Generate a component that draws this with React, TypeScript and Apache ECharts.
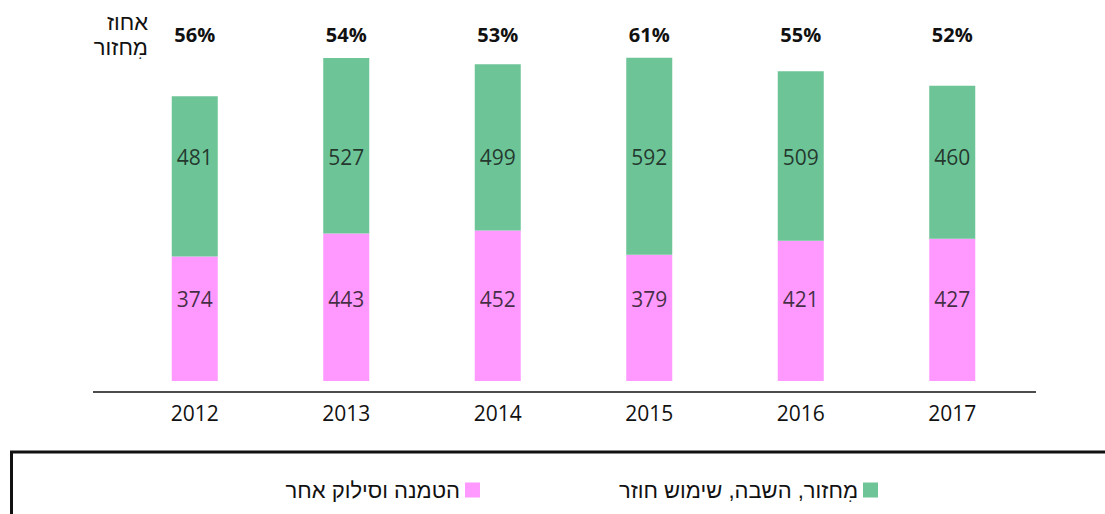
import React, { useEffect, useRef } from "react";
import * as echarts from "echarts";

const years = ["2012", "2013", "2014", "2015", "2016", "2017"];
const landfill = [374, 443, 452, 379, 421, 427];
const recycled = [481, 527, 499, 592, 509, 460];
const recyclePct = ["56%", "54%", "53%", "61%", "55%", "52%"];
const landfillName = "הטמנה וסילוק אחר";
const recycledName = "מִחזור, השבה, שימוש חוזר";
const cornerLabel = ["אחוז", "מִחזור"];

// value levels on the y axis where the segment numbers are written
const PINK_LABEL_LEVEL = 246;
const GREEN_LABEL_LEVEL = 672;

const FONT = "'Open Sans', 'DejaVu Sans', sans-serif";
const HEB = "'Liberation Sans Narrow', 'Liberation Sans', 'DejaVu Sans', sans-serif";

export default function App() {
  const ref = useRef<HTMLDivElement>(null);
  useEffect(() => {
    if (!ref.current) return;
    const chart = echarts.init(ref.current, null, { renderer: "svg" });
    const labelSeries = (level: number, values: number[]) => ({
      type: "scatter",
      silent: true,
      symbolSize: 0,
      z: 5,
      data: years.map((_, i) => [i, level, values[i]]),
      label: {
        show: true,
        position: "inside",
        fontSize: 21,
        color: "#111",
        fontFamily: FONT,
        formatter: (p: any) => String(p.value[2]),
      },
    });
    chart.setOption({
      animation: false,
      backgroundColor: "#ffffff",
      grid: { left: 119, right: 77, top: 48, bottom: 133, containLabel: false },
      legend: [
        {
          data: [recycledName],
          right: 227,
          top: 479,
          align: "right",
          icon: "rect",
          itemWidth: 15,
          itemHeight: 15,
          padding: 0,
          itemGap: 6,
          textStyle: { fontSize: 22, color: "#111", fontFamily: HEB },
        },
        {
          data: [landfillName],
          right: 625,
          top: 479,
          align: "right",
          icon: "rect",
          itemWidth: 15,
          itemHeight: 15,
          padding: 0,
          textStyle: { fontSize: 22, color: "#111", fontFamily: HEB },
        },
      ],
      xAxis: [
        {
          type: "category",
          data: years,
          offset: 11,
          axisLine: { show: false },
          axisTick: { show: false },
          axisLabel: { fontSize: 21, color: "#111", margin: 10, fontFamily: FONT },
        },
        {
          type: "category",
          data: recyclePct,
          position: "top",
          axisLine: { show: false },
          axisTick: { show: false },
          axisLabel: { fontSize: 20, color: "#111", fontWeight: "bold", margin: 4, fontFamily: FONT },
        },
      ],
      yAxis: {
        type: "value",
        min: 0,
        max: 1000,
        show: false,
        splitLine: { show: false },
      },
      series: [
        {
          name: landfillName,
          type: "bar",
          stack: "total",
          data: landfill,
          barWidth: 46,
          itemStyle: { color: "#FF99FF" },
        },
        {
          name: recycledName,
          type: "bar",
          stack: "total",
          data: recycled,
          barWidth: 46,
          itemStyle: { color: "#6CC497" },
        },
        labelSeries(PINK_LABEL_LEVEL, landfill),
        labelSeries(GREEN_LABEL_LEVEL, recycled),
      ],
      graphic: [
        {
          type: "line",
          shape: { x1: 93, y1: 392, x2: 1036, y2: 392 },
          style: { stroke: "#111", lineWidth: 1.3 },
        },
        {
          type: "rect",
          shape: { x: 11.5, y: 452, width: 1200, height: 100 },
          style: { fill: "none", stroke: "#111", lineWidth: 3 },
        },
        {
          type: "text",
          x: 148,
          y: 22,
          style: { text: cornerLabel[0], fontSize: 22, fill: "#111", align: "right", verticalAlign: "middle", fontFamily: HEB },
        },
        {
          type: "text",
          x: 148,
          y: 47,
          style: { text: cornerLabel[1], fontSize: 22, fill: "#111", align: "right", verticalAlign: "middle", fontFamily: HEB },
        },
      ],
    });
    return () => chart.dispose();
  }, []);
  return <div ref={ref} style={{ position: "absolute", left: 0, top: 0, width: 1105, height: 514 }} />;
}
